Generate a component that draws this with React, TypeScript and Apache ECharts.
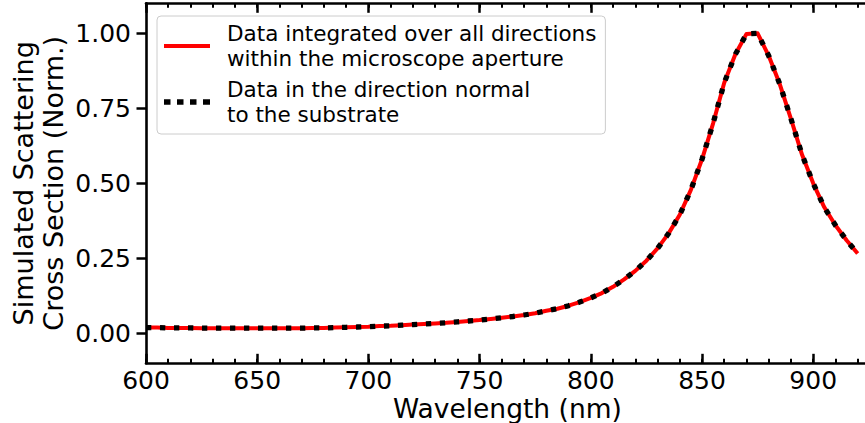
import React, { useEffect, useRef } from "react";
import * as echarts from "echarts";

// Wavelength samples (nm)
const wavelengths = [
  600, 605, 610, 615, 620, 625, 630, 635, 640, 645,
  650, 655, 660, 665, 670, 675, 680, 685, 690, 695,
  700, 705, 710, 715, 720, 725, 730, 735, 740, 745,
  750, 755, 760, 765, 770, 775, 780, 785, 790, 795,
  800, 805, 810, 815, 820, 825, 830, 835, 840, 845,
  850, 855, 860, 865, 870, 875, 880, 885, 890, 895,
  900, 905, 910, 915, 920,
];

// Data integrated over all directions within the microscope aperture
const integratedValues = [
  0.019, 0.019, 0.018, 0.018, 0.018, 0.017, 0.017, 0.017, 0.017, 0.017,
  0.017, 0.017, 0.017, 0.017, 0.017, 0.018, 0.018, 0.019, 0.020, 0.021,
  0.022, 0.024, 0.025, 0.027, 0.029, 0.031, 0.033, 0.035, 0.038, 0.041,
  0.044, 0.048, 0.052, 0.056, 0.061, 0.067, 0.075, 0.082, 0.092, 0.104,
  0.118, 0.134, 0.155, 0.180, 0.208, 0.242, 0.283, 0.333, 0.395, 0.478,
  0.580, 0.700, 0.835, 0.930, 0.998, 1.000, 0.925, 0.830, 0.715, 0.595,
  0.500, 0.420, 0.360, 0.310, 0.266,
];

// Data in the direction normal to the substrate
const normalValues = [
  0.019, 0.019, 0.018, 0.018, 0.018, 0.017, 0.017, 0.017, 0.017, 0.017,
  0.017, 0.017, 0.017, 0.017, 0.017, 0.018, 0.018, 0.019, 0.020, 0.021,
  0.022, 0.024, 0.025, 0.027, 0.029, 0.031, 0.033, 0.035, 0.038, 0.041,
  0.044, 0.048, 0.052, 0.056, 0.061, 0.067, 0.075, 0.082, 0.092, 0.104,
  0.118, 0.134, 0.155, 0.180, 0.208, 0.242, 0.283, 0.333, 0.395, 0.478,
  0.580, 0.700, 0.835, 0.930, 0.998, 1.000, 0.925, 0.830, 0.715, 0.595,
  0.500, 0.420, 0.360, 0.310, 0.266,
];

const yTickValues = [0, 0.25, 0.5, 0.75, 1.0];

const seriesNames = [
  "Data integrated over all directions\nwithin the microscope aperture",
  "Data in the direction normal\nto the substrate",
];

const FONT = "DejaVu Sans";

export default function App() {
  const ref = useRef<HTMLDivElement>(null);

  useEffect(() => {
    if (!ref.current) return;
    const chart = echarts.init(ref.current, null, { renderer: "svg" });

    const xMin = 600;
    const xMax = 925;
    const pxPerNm = 2.224;
    const gridLeft = 146;
    const gridWidth = (xMax - xMin) * pxPerNm;

    const baseX = {
      type: "value" as const,
      min: xMin,
      max: xMax,
      gridIndex: 0,
      splitLine: { show: false },
    };

    const option: any = {
      animation: false,
      backgroundColor: "#ffffff",
      grid: {
        left: gridLeft,
        top: 3.3,
        width: gridWidth,
        height: 360,
        containLabel: false,
        outerBoundsMode: "none",
      },
      legend: {
        orient: "vertical",
        left: 157,
        top: 16,
        padding: [5, 9, 7, 7],
        itemGap: 6,
        itemWidth: 46,
        itemHeight: 5.3,
        symbolKeepAspect: true,
        backgroundColor: "rgba(255,255,255,0.8)",
        borderColor: "#cccccc",
        borderWidth: 1,
        borderRadius: 4,
        textStyle: {
          fontFamily: FONT,
          fontSize: 21.5,
          color: "#000000",
          lineHeight: 25,
          padding: [0, 0, 0, 12],
        },
        data: [
          {
            name: seriesNames[0],
            icon: "path://M0,0L46,0L46,4L0,4Z",
            itemStyle: { color: "#ff0000" },
          },
          {
            name: seriesNames[1],
            icon:
              "path://M0,0h6.5v5.3h-6.5zM13,0h6.5v5.3h-6.5zM26,0h6.5v5.3h-6.5zM39,0h7v5.3h-7z",
            itemStyle: { color: "#000000" },
          },
        ],
      },
      xAxis: [
        {
          ...baseX,
          position: "bottom",
          interval: 50,
          name: "Wavelength (nm)",
          nameLocation: "middle",
          nameGap: 31,
          nameMoveOverlap: false,
          nameTextStyle: { fontFamily: FONT, fontSize: 26.5, color: "#000000", lineHeight: 28 },
          axisLine: { show: true, onZero: false, lineStyle: { color: "#000000", width: 2.6 } },
          axisTick: { show: true, inside: true, length: 9.5, lineStyle: { color: "#000000", width: 2.5 } },
          axisLabel: {
            show: true,
            margin: 5,
            fontFamily: FONT,
            fontSize: 25,
            color: "#000000",
            showMaxLabel: false,
          },
        },
        {
          ...baseX,
          position: "bottom",
          interval: 10,
          axisLine: { show: false, onZero: false },
          axisTick: { show: true, inside: true, length: 4.5, lineStyle: { color: "#000000", width: 2 } },
          axisLabel: { show: false },
        },
        {
          ...baseX,
          position: "top",
          interval: 50,
          axisLine: { show: true, onZero: false, lineStyle: { color: "#000000", width: 2.6 } },
          axisTick: { show: true, inside: true, length: 9.5, lineStyle: { color: "#000000", width: 2.5 } },
          axisLabel: { show: false },
        },
        {
          ...baseX,
          position: "top",
          interval: 10,
          axisLine: { show: false, onZero: false },
          axisTick: { show: true, inside: true, length: 4.5, lineStyle: { color: "#000000", width: 2 } },
          axisLabel: { show: false },
        },
      ],
      yAxis: [
        {
          type: "value",
          min: -0.1,
          max: 1.1,
          position: "left",
          splitLine: { show: false },
          name: "Simulated Scattering\nCross Section (Norm.)",
          nameLocation: "middle",
          nameGap: 78,
          nameMoveOverlap: false,
          nameTextStyle: {
            fontFamily: FONT,
            fontSize: 27,
            color: "#000000",
            lineHeight: 30,
            align: "center",
          },
          axisLine: { show: true, onZero: false, lineStyle: { color: "#000000", width: 2.6 } },
          axisTick: {
            show: true,
            inside: false,
            length: 9.5,
            customValues: yTickValues,
            lineStyle: { color: "#000000", width: 2.5 },
          },
          axisLabel: {
            show: true,
            margin: 15,
            fontFamily: FONT,
            fontSize: 25,
            color: "#000000",
            customValues: yTickValues,
            formatter: (v: number) => v.toFixed(2),
          },
        },
      ],
      series: [
        {
          name: seriesNames[0],
          type: "line",
          xAxisIndex: 0,
          yAxisIndex: 0,
          data: wavelengths.map((w, i) => [w, integratedValues[i]]),
          showSymbol: false,
          symbol: "none",
          clip: false,
          lineStyle: { color: "#ff0000", width: 4, cap: "butt", join: "round" },
          itemStyle: { color: "#ff0000" },
          z: 2,
        },
        {
          name: seriesNames[1],
          type: "line",
          xAxisIndex: 0,
          yAxisIndex: 0,
          data: wavelengths.map((w, i) => [w, normalValues[i]]),
          showSymbol: false,
          symbol: "none",
          clip: false,
          lineStyle: {
            color: "#000000",
            width: 5.3,
            type: [5.3, 8.7],
            cap: "butt",
            join: "miter",
          },
          itemStyle: { color: "#000000" },
          z: 3,
        },
      ],
    };

    chart.setOption(option);
    return () => {
      chart.dispose();
    };
  }, []);

  return (
    <div
      ref={ref}
      style={{ position: "absolute", left: 0, top: 0, width: 865, height: 423 }}
    />
  );
}
